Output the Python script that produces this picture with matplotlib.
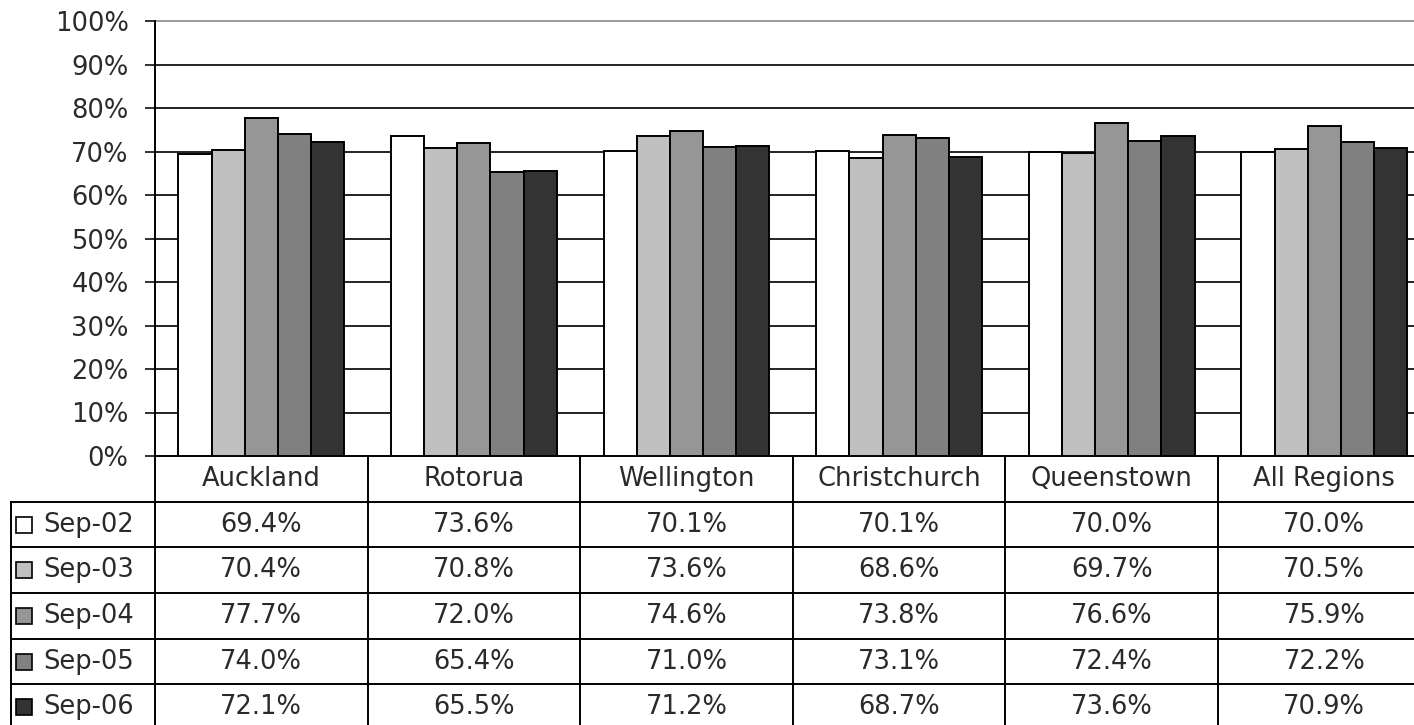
import numpy as np
import matplotlib.pyplot as plt

# data
regions = ["Auckland", "Rotorua", "Wellington", "Christchurch", "Queenstown", "All Regions"]
periods = ["Sep-02", "Sep-03", "Sep-04", "Sep-05", "Sep-06"]
sep02 = [69.4, 73.6, 70.1, 70.1, 70.0, 70.0]
sep03 = [70.4, 70.8, 73.6, 68.6, 69.7, 70.5]
sep04 = [77.7, 72.0, 74.6, 73.8, 76.6, 75.9]
sep05 = [74.0, 65.4, 71.0, 73.1, 72.4, 72.2]
sep06 = [72.1, 65.5, 71.2, 68.7, 73.6, 70.9]
series = [sep02, sep03, sep04, sep05, sep06]
colors = ["#ffffff", "#c0c0c0", "#969696", "#808080", "#333333"]

plt.rcParams["font.family"] = "DejaVu Sans"
FS = 18.5
TXT = "#2a2a2a"

W, H = 1414, 725
fig = plt.figure(figsize=(W / 100, H / 100), dpi=100)

# pixel layout
ax_left, ax_top, ax_bot = 155, 21, 456
cat_w = 212.6
x_right = -0.5 + (W - ax_left) / cat_w

ax = fig.add_axes([ax_left / W, (H - ax_bot) / H, (W - ax_left) / W, (ax_bot - ax_top) / H])
x = np.arange(len(regions))
bw = 0.156
for i, vals in enumerate(series):
    ax.bar(x + (i - 2) * bw, vals, bw, color=colors[i], edgecolor="black",
           linewidth=1.4, zorder=3)

ax.set_xlim(-0.5, x_right)
ax.set_ylim(0, 100)
ax.set_yticks(range(0, 101, 10))
ax.set_yticklabels([f"{t}%" for t in range(0, 101, 10)], fontsize=FS, color=TXT)
ax.set_xticks([])
for t in range(10, 100, 10):
    ax.axhline(t, color="#222222", lw=1.4, zorder=1)
ax.axhline(100, color="#999999", lw=1.4, zorder=1, clip_on=False)
ax.tick_params(axis="y", length=7, width=1.3, pad=12, color="#222222")
for s in ["top", "right"]:
    ax.spines[s].set_visible(False)
ax.spines["left"].set_linewidth(1.4)
ax.spines["bottom"].set_linewidth(1.4)

# data table below
row_h = 45.67
n_rows = len(periods) + 1
tb = fig.add_axes([0, (H - ax_bot - n_rows * row_h) / H, 1, n_rows * row_h / H])
tb.set_xlim(-0.5 - ax_left / cat_w, x_right)
tb.set_ylim(n_rows, 0)
tb.axis("off")
x_tab_left = -0.5 - (ax_left - 11) / cat_w

for k in range(len(regions) + 1):
    tb.plot([k - 0.5, k - 0.5], [0, n_rows], color="black", lw=1.4)
tb.plot([x_tab_left, x_tab_left], [1, n_rows], color="black", lw=1.4)
for r in range(1, n_rows):
    tb.plot([x_tab_left, x_right], [r, r], color="black", lw=1.4)

for j, reg in enumerate(regions):
    tb.text(j, 0.5, reg, ha="center", va="center", fontsize=FS, color=TXT)
for i, (p, vals) in enumerate(zip(periods, series)):
    yc = i + 1.5
    tb.plot([x_tab_left + 0.06], [yc], marker="s", ms=11, mfc=colors[i],
            mec="black", mew=1.2)
    tb.text(x_tab_left + 0.15, yc, p, ha="left", va="center", fontsize=FS, color=TXT)
    for j, v in enumerate(vals):
        tb.text(j, yc, f"{v:.1f}%", ha="center", va="center", fontsize=FS, color=TXT)

fig.savefig("out.png", dpi=100)
